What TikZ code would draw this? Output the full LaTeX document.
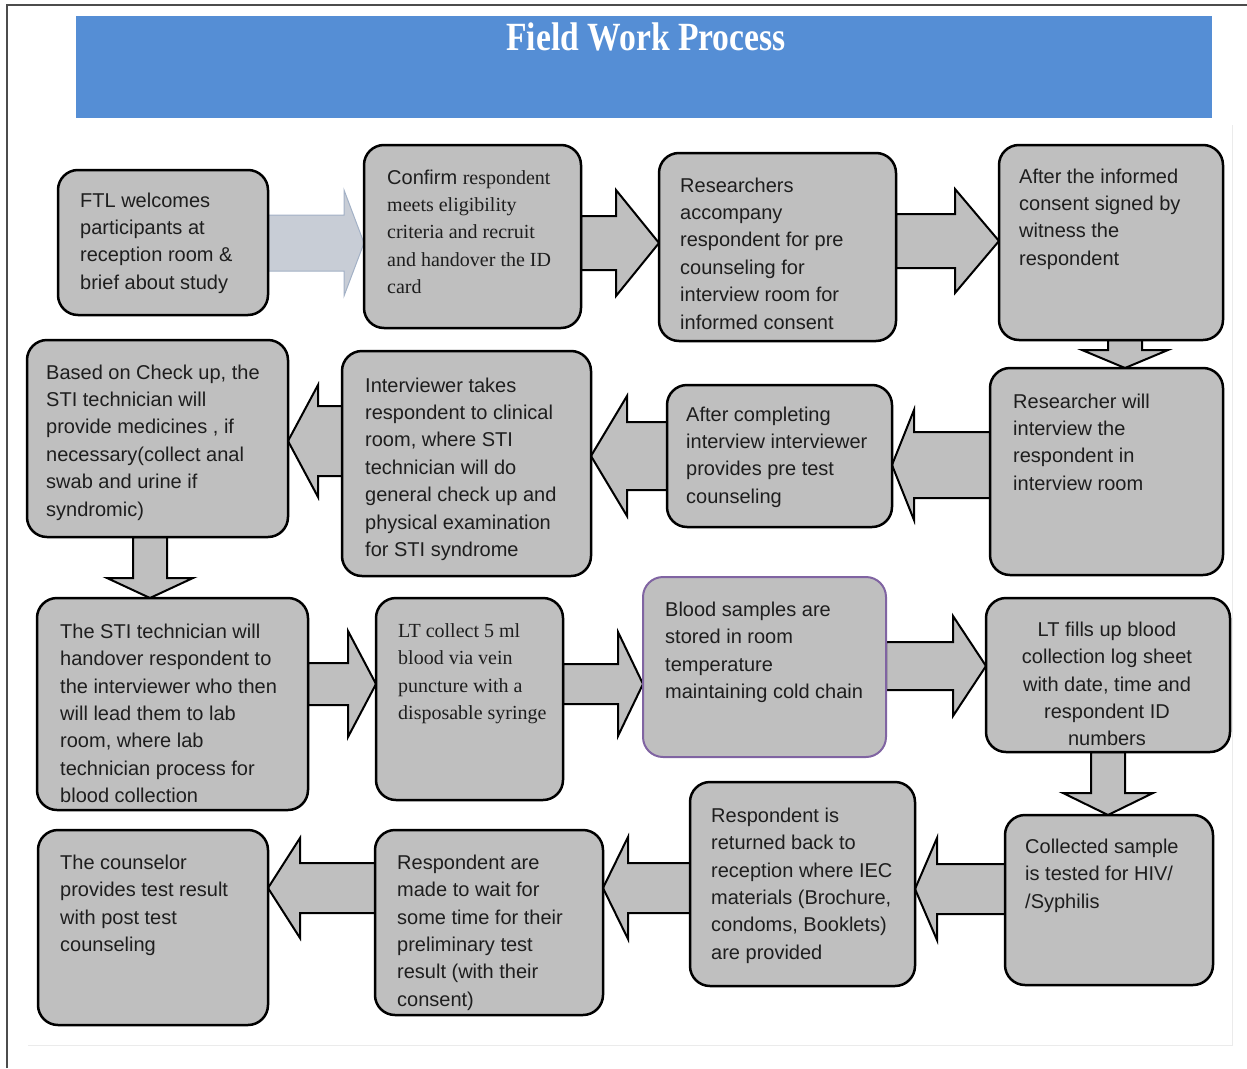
\documentclass[tikz,border=0pt]{standalone}
\usepackage{fontspec}
\usepackage{graphicx}
\setmainfont{Liberation Sans}
\newfontfamily\serifff{Liberation Serif}
\usetikzlibrary{calc,backgrounds}
\definecolor{boxgray}{HTML}{BFBFBF}
\definecolor{bannerblue}{HTML}{558ED5}
\definecolor{lilac}{HTML}{8064A2}
\definecolor{lightarrow}{HTML}{C8CDD6}
\definecolor{lightedge}{HTML}{A3B1C6}
\definecolor{txtc}{HTML}{1E1E1E}
\newcommand\mkbox[6][]{%
  \pgfmathsetmacro\bxcx{(#3+#5)/2}%
  \pgfmathsetmacro\bxcy{(#4+#6)/2}%
  \pgfmathsetmacro\bxw{#5-#3}%
  \pgfmathsetmacro\bxh{#6-#4}%
  \node[box,minimum width=\bxw pt,minimum height=\bxh pt,#1] (#2) at (\bxcx,\bxcy) {};}
% horizontal block arrow: style, from, to, y centre, shaft half, head half, signed offset tip->head base
\newcommand\hblk[7][]{%
  \coordinate (hy) at (0,#4);
  \coordinate (hs) at (#2 |- hy);
  \coordinate (ht) at (#3 |- hy);
  \coordinate (hb) at ($(ht)+(#7,0)$);
  \draw[barrow,#1] ($(hs)+(0,-#5)$) -- ($(hb)+(0,-#5)$) -- ($(hb)+(0,-#6)$) -- (ht)
     -- ($(hb)+(0,#6)$) -- ($(hb)+(0,#5)$) -- ($(hs)+(0,#5)$) -- cycle;}
% vertical block arrow
\newcommand\vblk[7][]{%
  \coordinate (vx) at (#4,0);
  \coordinate (vs) at (#2 -| vx);
  \coordinate (vt) at (#3 -| vx);
  \coordinate (vb) at ($(vt)+(0,#7)$);
  \draw[barrow,#1] ($(vs)+(-#5,0)$) -- ($(vb)+(-#5,0)$) -- ($(vb)+(-#6,0)$) -- (vt)
     -- ($(vb)+(#6,0)$) -- ($(vb)+(#5,0)$) -- ($(vs)+(#5,0)$) -- cycle;}
\begin{document}
\begin{tikzpicture}[x=1pt,y=-1pt,
  box/.style={draw=black,line width=2.5pt,fill=boxgray,rounded corners=20pt,inner sep=0pt,outer sep=0pt},
  purplebox/.style={draw=lilac,line width=2pt},
  bannerbox/.style={draw=none,fill=bannerblue,rounded corners=0pt},
  txt/.style={anchor=north west,inner sep=0pt,align=left,text=txtc,font=\fontsize{20}{27.4}\selectfont},
  barrow/.style={draw=black,line width=2pt,fill=boxgray,line join=miter},
  lightarr/.style={draw=lightedge,line width=1pt,fill=lightarrow}]
\useasboundingbox (0,0) rectangle (1247,1068);
% outer frame
\draw[line width=2pt,black!70] (7,1068) -- (7,5) -- (1247,5);
\draw[line width=1pt,black!8] (28,1045) -- (1232,1045) -- (1232,125);
% banner
\mkbox[bannerbox]{banner}{76}{16}{1212}{118}
\node[inner sep=0pt,text=white,font=\serifff\bfseries\fontsize{40}{40}\selectfont] (title) at (646,37) {\scalebox{0.84}[1]{Field Work Process}};
% boxes
\mkbox{b1}{58}{170}{268}{315}
\mkbox{b2}{364}{145}{581}{328}
\mkbox{b3}{659}{153}{896}{341}
\mkbox{b4}{999}{145}{1223}{340}
\mkbox{b5}{990}{368}{1223}{575}
\mkbox{b6}{667}{385}{892}{527}
\mkbox{b7}{342}{351}{591}{576}
\mkbox{b8}{27}{340}{288}{537}
\mkbox{b9}{37}{598}{308}{810}
\mkbox{b10}{376}{598}{563}{800}
\mkbox[purplebox]{b11}{643}{577}{886}{757}
\mkbox{b12}{986}{598}{1230}{752}
\mkbox{b13}{1005}{815}{1213}{985}
\mkbox{b14}{690}{782}{915}{986}
\mkbox{b15}{375}{830}{603}{1015}
\mkbox{b16}{38}{830}{268}{1025}
% arrows
\begin{scope}[on background layer]
\hblk[lightarr]{b1.east}{b2.west}{243}{28}{53}{-20}
\hblk{b2.east}{b3.west}{243}{27}{53}{-43}
\hblk{b3.east}{b4.west}{241}{27}{52}{-44}
\vblk{b4.south}{b5.north}{1125}{17}{43}{-18}
\hblk{b5.west}{b6.east}{465}{33}{55}{22}
\hblk{b6.west}{b7.east}{456}{34}{60}{36}
\hblk{b7.west}{b8.east}{441}{35}{56}{30}
\vblk{b8.south}{b9.north}{150}{17}{43}{-20}
\hblk{b9.east}{b10.west}{684}{21}{53}{-28}
\hblk{b10.east}{b11.west}{684}{20}{52}{-25}
\hblk{b11.east}{b12.west}{666}{24}{50}{-33}
\vblk{b12.south}{b13.north}{1108}{17}{45}{-22}
\hblk{b13.west}{b14.east}{889}{25}{51}{22}
\hblk{b14.west}{b15.east}{888}{25}{51}{25}
\hblk{b15.west}{b16.east}{888}{25}{50}{32}
\end{scope}
% texts
\node[txt] (t1) at (80,192.5) {FTL welcomes\\participants at\\reception room \&\\brief about study};
\node[txt] (t2) at (387,169.5) {Confirm {\serifff respondent}\\{\serifff meets eligibility}\\{\serifff criteria and recruit}\\{\serifff and handover the ID}\\{\serifff card}};
\node[txt] (t3) at (680,177.5) {Researchers\\accompany\\respondent for pre\\counseling for\\interview room for\\informed consent};
\node[txt] (t4) at (1019,168.5) {After the informed\\consent signed by\\witness the\\respondent};
\node[txt] (t5) at (1013,393.5) {Researcher will\\interview the\\respondent in\\interview room};
\node[txt] (t6) at (686,406.5) {After completing\\interview interviewer\\provides pre test\\counseling};
\node[txt] (t7) at (365,377.5) {Interviewer takes\\respondent to clinical\\room, where STI\\technician will do\\general check up and\\physical examination\\for STI syndrome};
\node[txt] (t8) at (46,364.5) {Based on Check up, the\\STI technician will\\provide medicines , if\\necessary(collect anal\\swab and urine if\\syndromic)};
\node[txt] (t9) at (60,623.5) {The STI technician will\\handover respondent to\\the interviewer who then\\will lead them to lab\\room, where lab\\technician process for\\blood collection};
\node[txt] (t10) at (398,623.5) {{\serifff LT collect 5 ml}\\{\serifff blood via vein}\\{\serifff puncture with a}\\{\serifff disposable syringe}};
\node[txt] (t11) at (665,601.5) {Blood samples are\\stored in room\\temperature\\maintaining cold chain};
\node[txt,anchor=north,align=center] (t12) at (1107,621.5) {LT fills up blood\\collection log sheet\\with date, time and\\respondent ID\\numbers};
\node[txt] (t13) at (1025,838.5) {Collected sample\\is tested for HIV/\\/Syphilis};
\node[txt] (t14) at (711,807.5) {Respondent is\\returned back to\\reception where IEC\\materials (Brochure,\\condoms, Booklets)\\are provided};
\node[txt] (t15) at (397,854.5) {Respondent are\\made to wait for\\some time for their\\preliminary test\\result (with their\\consent)};
\node[txt] (t16) at (60,854.5) {The counselor\\provides test result\\with post test\\counseling};
\end{tikzpicture}
\end{document}
